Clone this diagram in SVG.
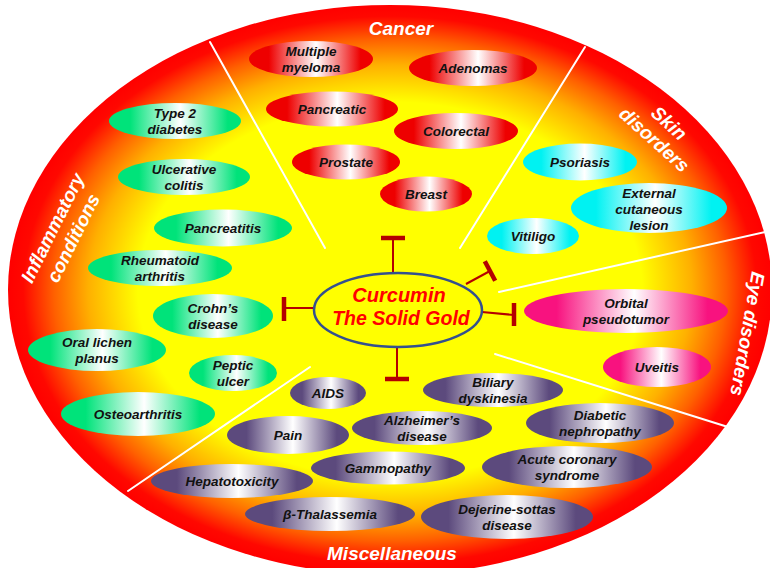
<svg xmlns="http://www.w3.org/2000/svg" width="770" height="568" viewBox="0 0 770 568">
<style>
.n text{font-family:"Liberation Sans",Arial,sans-serif;font-weight:bold;font-style:italic;font-size:13.5px;fill:#111;text-anchor:middle}
.sec{font-family:"Liberation Sans",Arial,sans-serif;font-weight:bold;font-style:italic;font-size:19px;fill:#fff;text-anchor:middle}
.div{stroke:#fff;stroke-width:2;stroke-linecap:round}
.s{stroke:#b40000;stroke-width:2}
.b{stroke:#b40000;stroke-width:4.5}
.ctr{font-family:"Liberation Sans",Arial,sans-serif;font-weight:bold;font-style:italic;fill:#ff0000;text-anchor:middle}
.red{fill:url(#gRed)}
.grn{fill:url(#gGrn)}
.cyn{fill:url(#gCyn)}
.pnk{fill:url(#gPnk)}
.pur{fill:url(#gPur)}
</style>
<defs>
<radialGradient id="bg" cx="0.5" cy="0.5" r="0.5">
<stop offset="0" stop-color="#ffff00"/>
<stop offset="0.66" stop-color="#ffff00"/>
<stop offset="0.79" stop-color="#ffb000"/>
<stop offset="0.88" stop-color="#ff6000"/>
<stop offset="0.96" stop-color="#ff0800"/>
<stop offset="1" stop-color="#ff0000"/>
</radialGradient>
<linearGradient id="gRed"><stop offset="0" stop-color="#ee0000"/><stop offset="0.16" stop-color="#ee0000"/><stop offset="0.54" stop-color="#ffffff"/><stop offset="0.9" stop-color="#ee0000"/><stop offset="1" stop-color="#ee0000"/></linearGradient>
<linearGradient id="gGrn"><stop offset="0" stop-color="#00e37a"/><stop offset="0.16" stop-color="#00e37a"/><stop offset="0.54" stop-color="#ffffff"/><stop offset="0.9" stop-color="#00e37a"/><stop offset="1" stop-color="#00e37a"/></linearGradient>
<linearGradient id="gCyn"><stop offset="0" stop-color="#00f2f2"/><stop offset="0.16" stop-color="#00f2f2"/><stop offset="0.54" stop-color="#ffffff"/><stop offset="0.9" stop-color="#00f2f2"/><stop offset="1" stop-color="#00f2f2"/></linearGradient>
<linearGradient id="gPnk"><stop offset="0" stop-color="#f8127f"/><stop offset="0.16" stop-color="#f8127f"/><stop offset="0.54" stop-color="#ffffff"/><stop offset="0.9" stop-color="#f8127f"/><stop offset="1" stop-color="#f8127f"/></linearGradient>
<linearGradient id="gPur"><stop offset="0" stop-color="#5c4a7d"/><stop offset="0.16" stop-color="#5c4a7d"/><stop offset="0.54" stop-color="#ffffff"/><stop offset="0.9" stop-color="#5c4a7d"/><stop offset="1" stop-color="#5c4a7d"/></linearGradient>
</defs>

<rect width="770" height="568" fill="#ffffff"/>
<ellipse cx="390" cy="290" rx="382" ry="285" fill="url(#bg)"/>

<g id="dividers">
<line class="div" x1="325" y1="248" x2="210" y2="42"/>
<line class="div" x1="460" y1="248" x2="585" y2="47"/>
<line class="div" x1="499" y1="292" x2="765" y2="232"/>
<line class="div" x1="495" y1="354" x2="728" y2="427"/>
<line class="div" x1="310" y1="367" x2="128" y2="491"/>
</g>

<g id="section-labels">
<text class="sec" x="401" y="35">Cancer</text>
<text class="sec" x="392" y="560" font-size="18">Miscellaneous</text>
<g transform="translate(662,131) rotate(42)">
<text class="sec" x="0" y="-4">Skin</text>
<text class="sec" x="0" y="18">disorders</text>
</g>
<g transform="translate(748,334) rotate(100)">
<text class="sec" x="0" y="7">Eye disorders</text>
</g>
<g transform="translate(63,233) rotate(-63.6)">
<text class="sec" x="0" y="-5">Inflammatory</text>
<text class="sec" x="0" y="18">conditions</text>
</g>
</g>

<g id="connectors">
<line class="s" x1="393" y1="272" x2="393" y2="238"/>
<line class="b" x1="381" y1="238" x2="405" y2="238"/>
<line class="s" x1="466" y1="284" x2="490" y2="271"/>
<line class="b" x1="484.8" y1="261.3" x2="495.2" y2="280.7"/>
<line class="s" x1="314" y1="308" x2="284" y2="308"/>
<line class="b" x1="284" y1="297" x2="284" y2="321"/>
<line class="s" x1="482" y1="312" x2="514" y2="315"/>
<line class="b" x1="514" y1="303" x2="514" y2="326"/>
<line class="s" x1="397" y1="347" x2="397" y2="379"/>
<line class="b" x1="385" y1="379" x2="409" y2="379"/>
</g>

<g id="center">
<ellipse cx="398" cy="310" rx="84" ry="37" fill="#ffff00" stroke="#34508f" stroke-width="2.5"/>
<text class="ctr" x="399" y="302" font-size="20">Curcumin</text>
<text class="ctr" x="401" y="325" font-size="19.5">The Solid Gold</text>
</g>

<g id="multiple-myeloma" class="n"><ellipse class="red" cx="311" cy="59" rx="62" ry="18"/><text x="311" y="56">Multiple</text><text x="311" y="72">myeloma</text></g>
<g id="adenomas" class="n"><ellipse class="red" cx="473" cy="68" rx="64" ry="18"/><text x="473" y="73">Adenomas</text></g>
<g id="pancreatic" class="n"><ellipse class="red" cx="332" cy="109" rx="66" ry="17.5"/><text x="332" y="114">Pancreatic</text></g>
<g id="colorectal" class="n"><ellipse class="red" cx="456" cy="131" rx="62" ry="18"/><text x="456" y="136">Colorectal</text></g>
<g id="prostate" class="n"><ellipse class="red" cx="346" cy="162" rx="54" ry="17.5"/><text x="346" y="167">Prostate</text></g>
<g id="breast" class="n"><ellipse class="red" cx="426" cy="194" rx="46" ry="17.5"/><text x="426" y="199">Breast</text></g>

<g id="type2-diabetes" class="n"><ellipse class="grn" cx="175" cy="121" rx="66" ry="18"/><text x="175" y="118">Type 2</text><text x="175" y="134">diabetes</text></g>
<g id="ulcerative-colitis" class="n"><ellipse class="grn" cx="184" cy="177" rx="66" ry="18"/><text x="184" y="174">Ulcerative</text><text x="184" y="190">colitis</text></g>
<g id="pancreatitis" class="n"><ellipse class="grn" cx="223" cy="228" rx="69" ry="18.5"/><text x="223" y="233">Pancreatitis</text></g>
<g id="rheumatoid-arthritis" class="n"><ellipse class="grn" cx="160" cy="268" rx="72" ry="18"/><text x="160" y="265">Rheumatoid</text><text x="160" y="281">arthritis</text></g>
<g id="crohns-disease" class="n"><ellipse class="grn" cx="213" cy="316" rx="60" ry="22"/><text x="213" y="313">Crohn’s</text><text x="213" y="329">disease</text></g>
<g id="oral-lichen-planus" class="n"><ellipse class="grn" cx="97" cy="350" rx="69" ry="21"/><text x="97" y="347">Oral lichen</text><text x="97" y="363">planus</text></g>
<g id="peptic-ulcer" class="n"><ellipse class="grn" cx="233" cy="373" rx="44" ry="18"/><text x="233" y="370">Peptic</text><text x="233" y="386">ulcer</text></g>
<g id="osteoarthritis" class="n"><ellipse class="grn" cx="138" cy="414" rx="77" ry="22"/><text x="138" y="419">Osteoarthritis</text></g>

<g id="psoriasis" class="n"><ellipse class="cyn" cx="580" cy="162" rx="57" ry="18.5"/><text x="580" y="167">Psoriasis</text></g>
<g id="external-cutaneous-lesion" class="n"><ellipse class="cyn" cx="649" cy="208" rx="78" ry="25"/><text x="649" y="198">External</text><text x="649" y="214">cutaneous</text><text x="649" y="230">lesion</text></g>
<g id="vitiligo" class="n"><ellipse class="cyn" cx="533" cy="236" rx="46" ry="18"/><text x="533" y="241">Vitiligo</text></g>

<g id="orbital-pseudotumor" class="n"><ellipse class="pnk" cx="626" cy="311" rx="102" ry="22"/><text x="626" y="308">Orbital</text><text x="626" y="324">pseudotumor</text></g>
<g id="uveitis" class="n"><ellipse class="pnk" cx="657" cy="367" rx="54" ry="20"/><text x="657" y="372">Uveitis</text></g>

<g id="aids" class="n"><ellipse class="pur" cx="328" cy="393" rx="38" ry="16"/><text x="328" y="398">AIDS</text></g>
<g id="biliary-dyskinesia" class="n"><ellipse class="pur" cx="493" cy="390" rx="70" ry="17"/><text x="493" y="387">Biliary</text><text x="493" y="403">dyskinesia</text></g>
<g id="pain" class="n"><ellipse class="pur" cx="288" cy="435" rx="61" ry="19"/><text x="288" y="440">Pain</text></g>
<g id="alzheimers-disease" class="n"><ellipse class="pur" cx="422" cy="428" rx="70" ry="17"/><text x="422" y="425">Alzheimer’s</text><text x="422" y="441">disease</text></g>
<g id="diabetic-nephropathy" class="n"><ellipse class="pur" cx="600" cy="423" rx="74" ry="20"/><text x="600" y="420">Diabetic</text><text x="600" y="436">nephropathy</text></g>
<g id="gammopathy" class="n"><ellipse class="pur" cx="388" cy="468" rx="77" ry="16.5"/><text x="388" y="473">Gammopathy</text></g>
<g id="acute-coronary-syndrome" class="n"><ellipse class="pur" cx="567" cy="467" rx="85" ry="21"/><text x="567" y="464">Acute coronary</text><text x="567" y="480">syndrome</text></g>
<g id="hepatotoxicity" class="n"><ellipse class="pur" cx="232" cy="481" rx="81" ry="17"/><text x="232" y="486">Hepatotoxicity</text></g>
<g id="beta-thalassemia" class="n"><ellipse class="pur" cx="330" cy="514" rx="85" ry="17"/><text x="330" y="519">β-Thalassemia</text></g>
<g id="dejerine-sottas-disease" class="n"><ellipse class="pur" cx="507" cy="517" rx="86" ry="22"/><text x="507" y="514">Dejerine-sottas</text><text x="507" y="530">disease</text></g>
</svg>
